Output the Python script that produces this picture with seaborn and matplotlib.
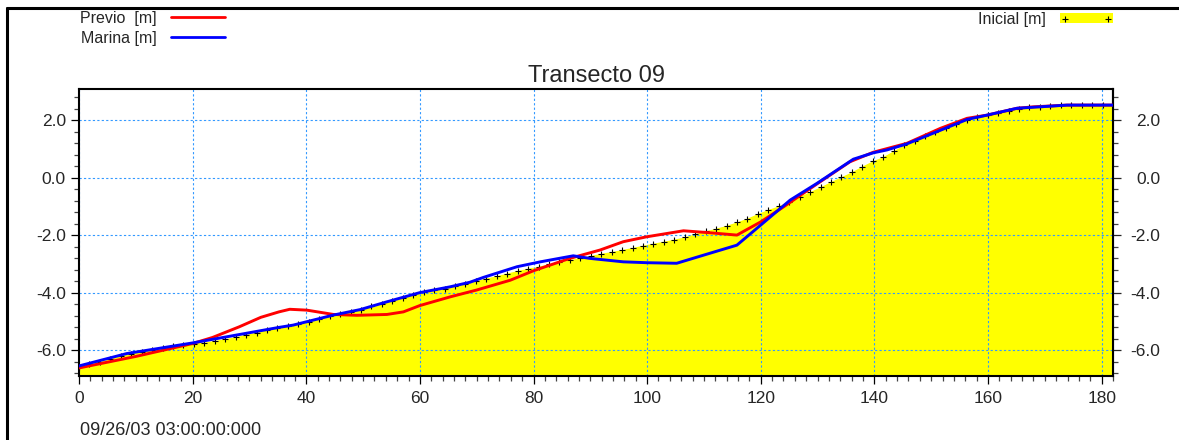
import matplotlib
matplotlib.use("Agg")
import matplotlib.pyplot as plt
from matplotlib.lines import Line2D
from matplotlib.patches import Patch
from matplotlib.ticker import FixedLocator, MultipleLocator, FormatStrFormatter
import seaborn as sns

# Initial bed profile, surveyed stations along the transect [m]
inicial_x = [0.00, 1.84, 3.68, 5.52, 7.35, 9.19, 11.03, 12.87, 14.71, 16.55,
             18.38, 20.22, 22.06, 23.90, 25.74, 27.58, 29.41, 31.25, 33.09, 34.93,
             36.77, 38.61, 40.44, 42.28, 44.12, 45.96, 47.80, 49.64, 51.47, 53.31,
             55.15, 56.99, 58.83, 60.67, 62.51, 64.34, 66.18, 68.02, 69.86, 71.70,
             73.54, 75.37, 77.21, 79.05, 80.89, 82.73, 84.57, 86.40, 88.24, 90.08,
             91.92, 93.76, 95.60, 97.43, 99.27, 101.11, 102.95, 104.79, 106.63, 108.46,
             110.30, 112.14, 113.98, 115.82, 117.66, 119.49, 121.33, 123.17, 125.01, 126.85,
             128.69, 130.53, 132.36, 134.20, 136.04, 137.88, 139.72, 141.56, 143.39, 145.23,
             147.07, 148.91, 150.75, 152.59, 154.42, 156.26, 158.10, 159.94, 161.78, 163.62,
             165.45, 167.29, 169.13, 170.97, 172.81, 174.65, 176.48, 178.32, 180.16, 182.00]
inicial_z = [-6.59, -6.50, -6.41, -6.31, -6.21, -6.13, -6.05, -5.99, -5.93, -5.87,
             -5.81, -5.77, -5.74, -5.68, -5.62, -5.55, -5.47, -5.39, -5.30, -5.24,
             -5.17, -5.10, -5.01, -4.92, -4.82, -4.74, -4.67, -4.59, -4.48, -4.38,
             -4.28, -4.18, -4.07, -3.99, -3.92, -3.86, -3.78, -3.69, -3.61, -3.51,
             -3.43, -3.34, -3.25, -3.17, -3.10, -3.02, -2.95, -2.87, -2.80, -2.73,
             -2.65, -2.59, -2.52, -2.45, -2.37, -2.30, -2.23, -2.16, -2.08, -1.97,
             -1.87, -1.78, -1.68, -1.56, -1.43, -1.27, -1.13, -1.00, -0.84, -0.67,
             -0.51, -0.34, -0.16, 0.01, 0.18, 0.38, 0.56, 0.71, 0.91, 1.12,
             1.28, 1.44, 1.60, 1.74, 1.88, 2.01, 2.09, 2.16, 2.24, 2.33,
             2.40, 2.44, 2.47, 2.49, 2.51, 2.52, 2.52, 2.52, 2.52, 2.52]

# Previous profile
previo_x = [0, 10, 20, 23.5, 28.2, 32, 35.2, 37.1, 40.1, 44.8, 48.9, 54.2, 57.1,
            60.0, 65.3, 70.0, 75.9, 80.0, 86.4, 91.7, 95.8, 99.9, 106.4, 111.1,
            115.8, 120.0, 124.0, 129.9, 135.7, 139.8, 143.4, 145.7, 151.6, 156.3,
            159.8, 165.1, 168.0, 173.9, 182]
previo_z = [-6.62, -6.22, -5.77, -5.56, -5.19, -4.86, -4.67, -4.58, -4.61, -4.76,
            -4.79, -4.76, -4.67, -4.45, -4.15, -3.91, -3.57, -3.24, -2.81, -2.52,
            -2.23, -2.06, -1.85, -1.92, -2.00, -1.54, -1.02, -0.22, 0.55, 0.88,
            1.07, 1.19, 1.71, 2.06, 2.17, 2.41, 2.46, 2.52, 2.52]

# Profile after marine conditions
marina_x = [0, 8.4, 20, 35.2, 37.7, 44.8, 49.5, 54.2, 60.0, 65.3, 68.8, 71.2, 77.1,
            81.2, 87.0, 89.9, 95.8, 99.9, 105.2, 109.9, 115.8, 120.0, 125.2, 129.9,
            136.3, 139.8, 142.2, 145.7, 156.3, 159.8, 165.1, 173.9, 182]
marina_z = [-6.55, -6.12, -5.75, -5.21, -5.13, -4.78, -4.59, -4.32, -4.00, -3.80,
            -3.64, -3.47, -3.10, -2.93, -2.72, -2.81, -2.93, -2.96, -2.98, -2.70,
            -2.35, -1.65, -0.78, -0.20, 0.64, 0.86, 0.96, 1.17, 2.02, 2.17, 2.41,
            2.52, 2.52]

titulo = "Transecto 09"
fecha = "09/26/03 03:00:00:000"
etiquetas = ["Previo  [m]", "Marina [m]", "Inicial [m]"]
x_ticks = [0, 20, 40, 60, 80, 100, 120, 140, 160, 180]
y_ticks = [-6.0, -4.0, -2.0, 0.0, 2.0]

sns.set_style("ticks")
plt.rcParams["font.family"] = ["Liberation Sans", "DejaVu Sans"]
plt.rcParams["axes.unicode_minus"] = False

W, H = 1179, 440
fig = plt.figure(figsize=(W / 100, H / 100), dpi=100)
ax = fig.add_axes([79 / W, 1 - 376 / H, (1113 - 79) / W, (376 - 89) / H])
ax.set_xlim(0, 182)
ax.set_ylim(-6.9, 3.08)

# Initial profile: filled area with station markers
ax.fill_between(inicial_x, inicial_z, -20, color="#ffff00", lw=0, zorder=1)
sns.lineplot(x=inicial_x, y=inicial_z, ax=ax, sort=False, color="black", lw=0,
             marker="+", markersize=4, markeredgewidth=0.8,
             markeredgecolor="black", zorder=2.2)

sns.lineplot(x=previo_x, y=previo_z, ax=ax, sort=False, color="#ff0000", lw=2.1, zorder=3)
sns.lineplot(x=marina_x, y=marina_z, ax=ax, sort=False, color="#0000ff", lw=2.1, zorder=3.1)

ax.set_xlabel("")
ax.set_ylabel("")
ax.set_title(titulo, fontsize=17, pad=5)

ax.grid(True, which="major", color="#3399ff", ls=(0, (2, 2)), lw=0.8)
ax.set_axisbelow("line")

for s in ax.spines.values():
    s.set_linewidth(1.5)
    s.set_color("black")

ax.xaxis.set_major_locator(FixedLocator(x_ticks))
ax.xaxis.set_minor_locator(MultipleLocator(2))
ax.yaxis.set_major_locator(FixedLocator(y_ticks))
ax.yaxis.set_minor_locator(MultipleLocator(0.4))
ax.yaxis.set_major_formatter(FormatStrFormatter("%.1f"))
ax.tick_params(which="both", direction="out", top=False, right=False, width=0.9)
ax.tick_params(which="major", length=6, labelsize=12.5, color="black")
ax.tick_params(which="minor", length=3.5, color="#444444")
ax.tick_params(axis="x", which="major", pad=5)
ax.tick_params(axis="y", which="major", pad=3.5)

# Right-hand elevation scale
sec = ax.secondary_yaxis("right")
sec.yaxis.set_major_locator(FixedLocator(y_ticks))
sec.yaxis.set_minor_locator(MultipleLocator(0.4))
sec.yaxis.set_major_formatter(FormatStrFormatter("%.1f"))
sec.tick_params(which="both", direction="out", width=0.9)
sec.tick_params(which="major", length=6, pad=28, labelsize=12.5)
sec.tick_params(which="minor", length=3.5, color="#444444")
sec.spines["right"].set_linewidth(1.5)
for lbl in sec.get_yticklabels():
    lbl.set_horizontalalignment("right")

# Legends
h_prev = Line2D([], [], color="#ff0000", lw=2)
h_mar = Line2D([], [], color="#0000ff", lw=2)
fig.legend([h_prev, h_mar], etiquetas[:2], loc="upper left",
           bbox_to_anchor=(80 / W, 1 - 11 / H), frameon=False, markerfirst=False,
           fontsize=11.5, handlelength=3.4, handletextpad=0.9, labelspacing=0.3,
           borderpad=0, borderaxespad=0)
h_ini = (Patch(facecolor="#ffff00", edgecolor="none"),
         Line2D([], [], ls="none", marker="+", color="black", markersize=4, mew=0.8))
fig.legend([h_ini], etiquetas[2:], loc="upper right", numpoints=2,
           bbox_to_anchor=(1113 / W, 1 - 12 / H), frameon=False, markerfirst=False,
           fontsize=11.5, handlelength=3.3, handleheight=0.6, handletextpad=0.9,
           borderpad=0, borderaxespad=0)

fig.text(80 / W, 1 - 435 / H, fecha, fontsize=13, va="baseline")

# Panel border
fig.add_artist(Line2D([6.5 / W, 6.5 / W], [0, 1 - 8 / H], transform=fig.transFigure,
                      color="black", lw=2.2))
fig.add_artist(Line2D([6.5 / W, 1], [1 - 8 / H, 1 - 8 / H], transform=fig.transFigure,
                      color="black", lw=2.2))

fig.savefig("out.png", dpi=100)
